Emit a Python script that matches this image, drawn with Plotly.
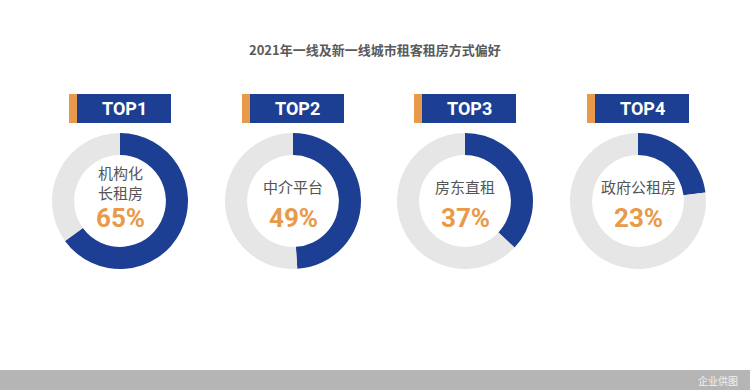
import plotly.graph_objects as go

# ---- data ----
title = "2021年一线及新一线城市租客租房方式偏好"
ranks = ["TOP1", "TOP2", "TOP3", "TOP4"]
labels = ["机构化<br>长租房", "中介平台", "房东直租", "政府公租房"]
values = [65, 49, 37, 23]
source = "企业供图"

# ---- style ----
W, H = 750, 390
BLUE = "#1d3f93"
GRAY = "#e6e6e6"
ORANGE = "#e8994a"
TXT = "#555555"
CJK = "Noto Sans CJK SC"

centers_x = [120, 293, 465, 638]
cy = 201
R = 68

fig = go.Figure()
shapes = []
annotations = []

for i, (rk, lab, v) in enumerate(zip(ranks, labels, values)):
    cx = centers_x[i]
    fig.add_trace(go.Pie(
        values=[v, 100 - v],
        marker=dict(colors=[BLUE, GRAY], line=dict(width=0)),
        hole=0.675,
        sort=False,
        direction="clockwise",
        rotation=0,
        textinfo="none",
        hoverinfo="none",
        showlegend=False,
        domain=dict(x=[(cx - R) / W, (cx + R) / W],
                    y=[(H - cy - R) / H, (H - cy + R) / H]),
    ))
    # header box
    x0 = cx - 51
    shapes.append(dict(type="rect", xref="paper", yref="paper",
                       x0=x0 / W, x1=(x0 + 8) / W,
                       y0=(H - 123) / H, y1=(H - 94) / H,
                       fillcolor=ORANGE, line=dict(width=0)))
    shapes.append(dict(type="rect", xref="paper", yref="paper",
                       x0=(x0 + 8) / W, x1=(x0 + 102) / W,
                       y0=(H - 123) / H, y1=(H - 94) / H,
                       fillcolor=BLUE, line=dict(width=0)))
    annotations.append(dict(text="<b>" + rk + "</b>", xref="paper", yref="paper",
                            x=(x0 + 55) / W, y=(H - 108.5) / H,
                            showarrow=False, xanchor="center", yanchor="middle",
                            font=dict(family="Roboto", size=18, color="white")))
    # center label
    two_line = "<br>" in lab
    annotations.append(dict(text=lab, xref="paper", yref="paper",
                            x=cx / W, y=(H - (182 if two_line else 187)) / H,
                            showarrow=False, xanchor="center", yanchor="middle",
                            font=dict(family=CJK, size=15, color=TXT)))
    annotations.append(dict(text="<b>%d%%</b>" % v, xref="paper", yref="paper",
                            x=cx / W, y=(H - 218) / H,
                            showarrow=False, xanchor="center", yanchor="middle",
                            font=dict(family="Roboto", size=26, color=ORANGE)))

# title
annotations.append(dict(text="<b>" + title + "</b>", xref="paper", yref="paper",
                        x=375 / W, y=(H - 50) / H, showarrow=False,
                        xanchor="center", yanchor="middle",
                        font=dict(family=CJK, size=13, color="#5a5a5a")))
# bottom bar
shapes.append(dict(type="rect", xref="paper", yref="paper",
                   x0=0, x1=1, y0=0, y1=20 / H,
                   fillcolor="#b5b5b5", line=dict(width=0)))
annotations.append(dict(text=source, xref="paper", yref="paper",
                        x=740 / W, y=10 / H, showarrow=False,
                        xanchor="right", yanchor="middle",
                        font=dict(family=CJK, size=10, color="#f2f2f2")))

fig.update_layout(
    width=W, height=H,
    margin=dict(l=0, r=0, t=0, b=0),
    paper_bgcolor="white", plot_bgcolor="white",
    shapes=shapes, annotations=annotations,
)

fig.write_html("out.html",
               config={"displayModeBar": False},
               post_script="document.body.style.margin='0';document.body.style.overflow='hidden';")
